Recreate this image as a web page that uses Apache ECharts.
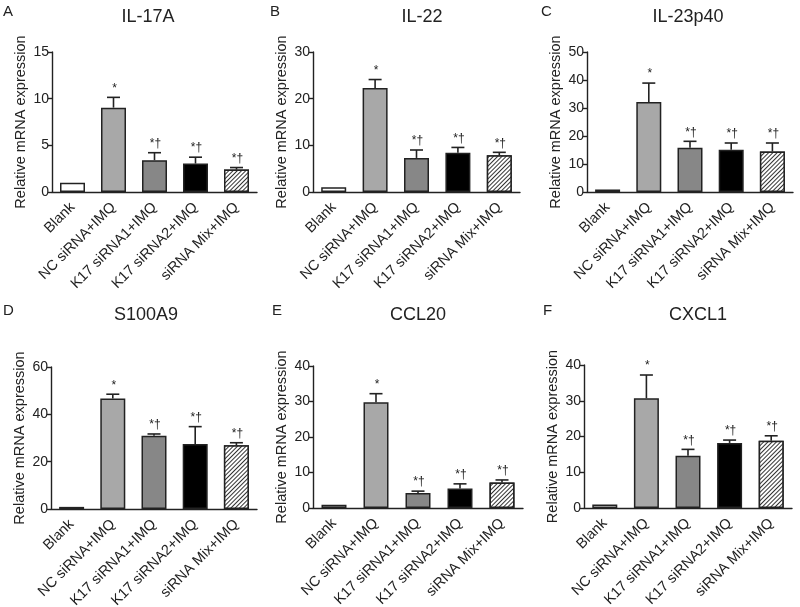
<!DOCTYPE html>
<html>
<head>
<meta charset="utf-8">
<script src="https://cdn.jsdelivr.net/npm/echarts@6/dist/echarts.min.js"></script>
<style>
  html, body { margin: 0; padding: 0; background: #fff; }
  #chart { width: 800px; height: 607px; }
</style>
</head>
<body>
<div id="chart"></div>
<script>
// groups on the x axis
const categories = ['Blank', 'NC siRNA+IMQ', 'K17 siRNA1+IMQ', 'K17 siRNA2+IMQ', 'siRNA Mix+IMQ']
const panelTitles = ['IL-17A', 'IL-22', 'IL-23p40', 'S100A9', 'CCL20', 'CXCL1']
const panelLetters = ['A', 'B', 'C', 'D', 'E', 'F']
const marks = ['', '*', '*\u2020', '*\u2020', '*\u2020']

// mean values and SD (upper error) per panel
const il17aMean = [1, 9.04, 3.41, 3.05, 2.4]
const il17aErr = [0, 1.1, 0.8, 0.68, 0.22]
const il22Mean = [1, 22.3, 7.3, 8.4, 7.85]
const il22Err = [0, 1.8, 1.7, 1.15, 0.65]
const il23p40Mean = [0.9, 32.1, 15.8, 15.1, 14.5]
const il23p40Err = [0, 6.8, 2.3, 2.4, 3.0]
const s100a9Mean = [0.9, 46.7, 30.9, 27.5, 26.9]
const s100a9Err = [0, 1.8, 0.8, 7.3, 1.1]
const ccl20Mean = [0.9, 29.8, 4.2, 5.5, 7.2]
const ccl20Err = [0, 2.4, 0.55, 1.3, 0.7]
const cxcl1Mean = [1, 30.7, 14.6, 18.2, 18.8]
const cxcl1Err = [0, 6.5, 1.8, 0.8, 1.4]

// y axis ticks
const yMax = [15, 30, 50, 60, 40, 40]
const yStep = [5, 10, 10, 20, 10, 10]

const means = [il17aMean, il22Mean, il23p40Mean, s100a9Mean, ccl20Mean, cxcl1Mean]
const errs = [il17aErr, il22Err, il23p40Err, s100a9Err, ccl20Err, cxcl1Err]

/* panel layout (px) */
const gridLeft = [52, 313, 587, 51, 313, 584]
const gridTop = [52, 52, 52, 367, 366, 365]
const gridH = [140, 140, 140, 142, 142, 143]
const gridW = [205, 207, 206, 206, 210, 208]
const titleX = [148, 422, 688, 146, 418, 698]
const titleY = [17, 17, 17, 315, 315, 315]
const letterX = [3, 270, 541, 3, 272, 543]
const letterY = [12, 12, 12, 311, 311, 311]

const FONT = 'Liberation Sans, Arial, sans-serif'
const barColors = ['#ffffff', '#a8a8a8', '#878787', '#000000', '#ffffff']

const grids = []
const xAxes = []
const yAxes = []
const series = []
const graphics = []

for (let p = 0; p < 6; p++) {
  grids.push({
    left: gridLeft[p],
    top: gridTop[p],
    width: gridW[p],
    height: gridH[p],
    containLabel: false,
    outerBoundsMode: 'none'
  })
  xAxes.push({
    type: 'category',
    gridIndex: p,
    data: categories,
    axisLine: { lineStyle: { color: '#222', width: 1.4 } },
    axisTick: { alignWithLabel: true, length: 5, lineStyle: { color: '#222', width: 1.4 } },
    axisLabel: { rotate: 45, color: '#222', fontSize: 14.5, fontFamily: FONT, margin: 13, interval: 0 }
  })
  yAxes.push({
    type: 'value',
    gridIndex: p,
    min: 0,
    max: yMax[p],
    interval: yStep[p],
    name: 'Relative mRNA expression',
    nameLocation: 'middle',
    nameGap: 24,
    nameTextStyle: { color: '#222', fontSize: 14.5, fontFamily: FONT },
    splitLine: { show: false },
    axisLine: { show: true, lineStyle: { color: '#222', width: 1.4 } },
    axisTick: { show: true, length: 4, lineStyle: { color: '#222', width: 1.4 } },
    axisLabel: { color: '#222', fontSize: 14, fontFamily: FONT, margin: 3 }
  })

  series.push({
    type: 'bar',
    xAxisIndex: p,
    yAxisIndex: p,
    barWidth: 25,
    data: means[p].map((v, i) => ({
      value: v,
      itemStyle: {
        color: barColors[i],
        borderColor: '#222',
        borderWidth: 1.5,
        decal: i === 4 ? {
          symbol: 'rect',
          dashArrayX: [1, 0],
          dashArrayY: [1, 2],
          rotation: -Math.PI / 4,
          color: '#333',
          backgroundColor: '#fff'
        } : null
      }
    }))
  })

  // error bars (upper only) with significance marks
  series.push({
    type: 'custom',
    xAxisIndex: p,
    yAxisIndex: p,
    z: 5,
    data: means[p].map((v, i) => [i, v, errs[p][i]]),
    renderItem: function (params, api) {
      const i = api.value(0)
      const base = api.coord([i, api.value(1)])
      const top = api.coord([i, api.value(1) + api.value(2)])
      const children = []
      if (api.value(2) > 0) {
        children.push({
          type: 'line',
          shape: { x1: base[0], y1: base[1], x2: top[0], y2: top[1] },
          style: { stroke: '#222', lineWidth: 1.6 }
        })
        children.push({
          type: 'line',
          shape: { x1: top[0] - 6.5, y1: top[1], x2: top[0] + 6.5, y2: top[1] },
          style: { stroke: '#222', lineWidth: 1.6 }
        })
      }
      const m = marks[params.dataIndex]
      if (m) {
        children.push({
          type: 'text',
          x: top[0] + 1,
          y: top[1] - 3,
          style: {
            text: m,
            align: 'center',
            verticalAlign: 'bottom',
            fill: '#222',
            font: '12px ' + FONT
          }
        })
      }
      return { type: 'group', children: children }
    }
  })

  graphics.push({
    type: 'text',
    x: titleX[p],
    y: titleY[p],
    style: { text: panelTitles[p], align: 'center', verticalAlign: 'middle', fill: '#222', font: '18px ' + FONT }
  })
  graphics.push({
    type: 'text',
    x: letterX[p],
    y: letterY[p],
    style: { text: panelLetters[p], align: 'left', verticalAlign: 'middle', fill: '#222', font: '15px ' + FONT }
  })
}

const myChart = echarts.init(document.getElementById('chart'))
myChart.setOption({
  backgroundColor: '#fff',
  animation: false,
  grid: grids,
  xAxis: xAxes,
  yAxis: yAxes,
  series: series,
  graphic: graphics
})
</script>
</body>
</html>
